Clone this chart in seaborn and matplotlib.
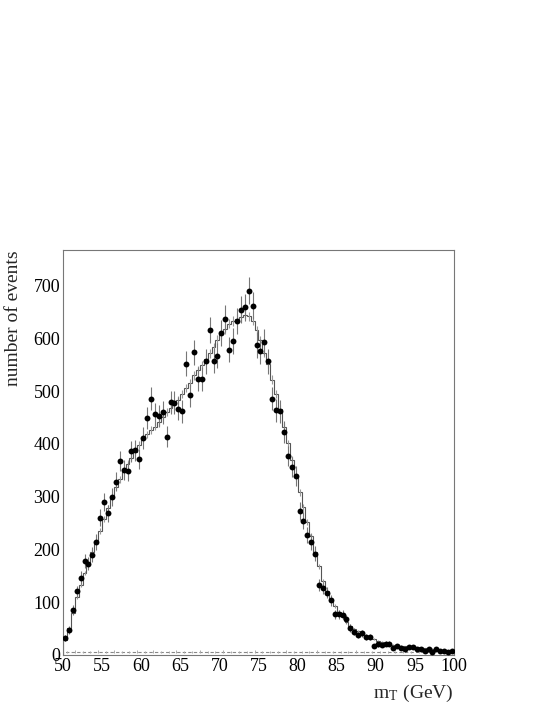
import numpy as np
import pandas as pd
import matplotlib
matplotlib.use("Agg")
import matplotlib.pyplot as plt
import seaborn as sns
from matplotlib.ticker import MultipleLocator

# bin edges: 100 bins of 0.5 GeV between 50 and 100 GeV
x_min, x_max, n_bins = 50.0, 100.0, 100

data_counts = [31, 47, 85, 120, 146, 178, 173, 190, 214, 260,
               290, 268, 300, 328, 367, 350, 348, 386, 388, 372,
               411, 449, 486, 456, 453, 460, 414, 479, 478, 467,
               462, 552, 492, 574, 523, 523, 557, 616, 558, 567,
               610, 638, 579, 596, 633, 655, 659, 691, 662, 588,
               576, 593, 557, 486, 464, 462, 423, 377, 357, 339,
               273, 254, 227, 214, 192, 132, 126, 118, 103, 77,
               77, 76, 68, 51, 44, 37, 41, 33, 33, 17,
               20, 19, 21, 21, 13, 17, 13, 11, 14, 14,
               11, 10, 8, 11, 5, 11, 7, 7, 5, 8]

mc_counts = [28, 50, 80, 110, 132, 155, 172, 195, 215, 235,
             258, 278, 297, 318, 333, 350, 362, 374, 385, 398,
             410, 418, 426, 433, 442, 452, 461, 468, 476, 484,
             494, 506, 516, 530, 540, 550, 562, 572, 583, 598,
             608, 618, 628, 633, 637, 641, 645, 642, 634, 616,
             597, 573, 552, 522, 494, 466, 433, 401, 370, 338,
             308, 280, 252, 225, 195, 168, 140, 120, 104, 92,
             81, 71, 62, 55, 49, 45, 41, 36, 32, 29,
             26, 24, 22, 20, 19, 18, 17, 16, 15, 14,
             14, 13, 12, 11, 11, 10, 9, 9, 8, 8]

# background (1 GeV bins)
bkg_counts = [5, 6, 5, 5, 6, 5, 6, 5, 5, 6,
              5, 6, 5, 5, 6, 5, 5, 6, 5, 5,
              6, 5, 5, 5, 6, 5, 5, 5, 6, 5,
              5, 5, 6, 5, 5, 5, 5, 6, 5, 5,
              5, 5, 5, 6, 5, 5, 5, 5, 5, 5]

x_ticks = [50, 55, 60, 65, 70, 75, 80, 85, 90, 95, 100]
y_ticks = [0, 100, 200, 300, 400, 500, 600, 700]

edges = np.linspace(x_min, x_max, n_bins + 1)
centers = 0.5 * (edges[:-1] + edges[1:])
bkg_edges = np.linspace(x_min, x_max, len(bkg_counts) + 1)
bkg_centers = 0.5 * (bkg_edges[:-1] + bkg_edges[1:])

df = pd.DataFrame({"mT": centers, "events": data_counts, "mc": mc_counts})

sns.set_theme(style="white")
plt.rcParams["font.family"] = ["Liberation Serif", "DejaVu Serif"]
plt.rcParams["mathtext.fontset"] = "stix"

fig = plt.figure(figsize=(5.45, 7.05), dpi=100)
ax = fig.add_axes([0.1156, 0.0713, 0.7174, 0.5741])

# background (dashed)
ax.stairs(bkg_counts, bkg_edges, color="#888888", lw=0.8, ls=(0, (3, 2)))
ax.errorbar(bkg_centers, bkg_counts, yerr=np.sqrt(bkg_counts),
            fmt="none", ecolor="#aaaaaa", elinewidth=0.7)

# MC histogram with small errors
ax.errorbar(centers, mc_counts, yerr=0.35 * np.sqrt(mc_counts),
            fmt="none", ecolor="#999999", elinewidth=0.8)
ax.stairs(mc_counts, edges, color="#555555", lw=0.8)

# data points with error bars
ax.errorbar(centers, data_counts, yerr=np.sqrt(data_counts),
            fmt="none", ecolor="#777777", elinewidth=0.8)
sns.scatterplot(data=df, x="mT", y="events", ax=ax, color="black",
                s=18, edgecolor="black", linewidth=0, zorder=5)

ax.set_xlim(x_min, x_max)
ax.set_ylim(0, 768)
ax.set_xticks(x_ticks)
ax.set_yticks(y_ticks)
ax.xaxis.set_minor_locator(MultipleLocator(1))
ax.yaxis.set_minor_locator(MultipleLocator(20))
ax.tick_params(axis="both", which="major", direction="in", length=8,
               width=0.7, color="#555555", labelsize=13, pad=2,
               labelcolor="black")
ax.tick_params(axis="both", which="minor", direction="in", length=4,
               width=0.6, color="#555555")
ax.tick_params(top=False, right=False, which="both")
for s in ax.spines.values():
    s.set_color("#777777")
    s.set_linewidth(0.8)

ax.set_xlabel(r"m$_\mathregular{T}$ (GeV)", fontsize=14, loc="right", labelpad=6)
ax.set_ylabel("number of events", fontsize=14, loc="top", labelpad=8)
ax.grid(False)

fig.savefig("out.png", dpi=100, facecolor="white")
